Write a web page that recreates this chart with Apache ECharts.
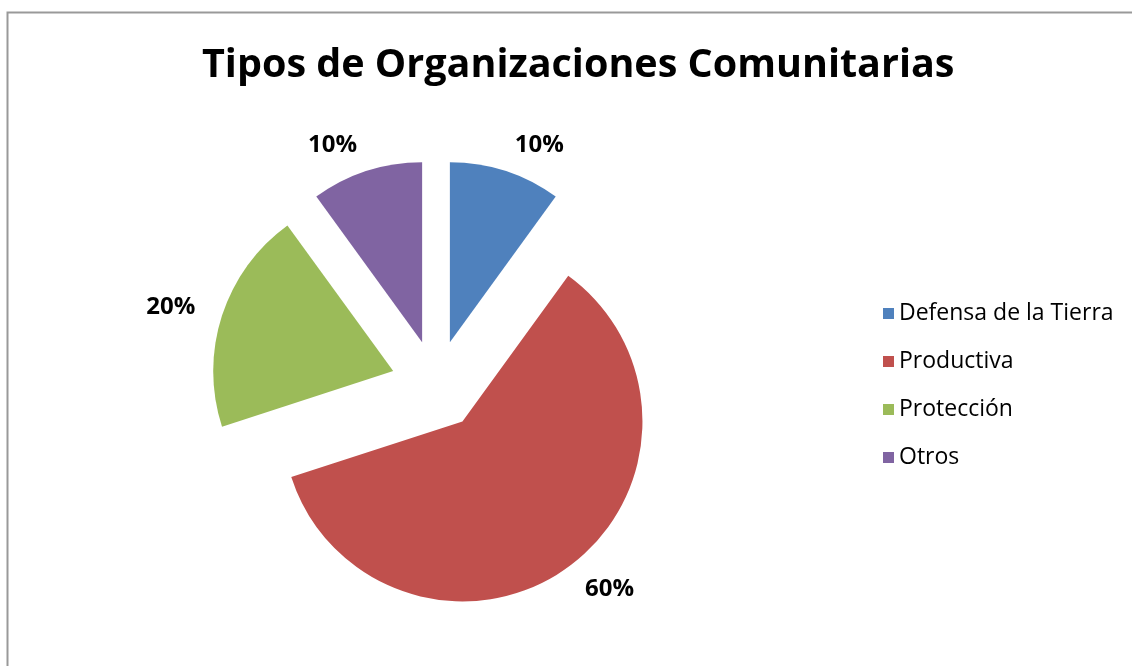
<!DOCTYPE html>
<html>
<head>
<meta charset="utf-8">
<script src="https://cdn.jsdelivr.net/npm/echarts@6/dist/echarts.min.js"></script>
<style>
  html, body { margin: 0; padding: 0; background: #fff; }
  #main { width: 1132px; height: 666px; }
</style>
</head>
<body>
<div id="main"></div>
<script>
  // datos del grafico
  var categorias = ['Defensa de la Tierra', 'Productiva', 'Protección', 'Otros'];
  var valores = [10, 60, 20, 10];
  var colores = ['#4F81BD', '#C0504D', '#9BBB59', '#8064A2'];

  var myChart = echarts.init(document.getElementById('main'));
  var fuente = '"Open Sans", "Noto Sans", sans-serif';

  myChart.setOption({
    animation: false,
    title: {
      text: 'Tipos de Organizaciones Comunitarias',
      left: 197,
      top: 41,
      textStyle: { fontFamily: fuente, fontSize: 39.5, fontWeight: 'bold', color: '#000' }
    },
    legend: {
      orient: 'vertical',
      left: 878,
      top: 297,
      itemWidth: 11,
      itemHeight: 11,
      itemGap: 25,
      icon: 'rect',
      textStyle: { fontFamily: fuente, fontSize: 23, color: '#000' },
      data: categorias
    },
    graphic: [{
      type: 'polyline',
      shape: { points: [[7.5, 666], [7.5, 12.5], [1132, 12.5]] },
      style: { stroke: '#999', lineWidth: 2, fill: null }
    }],
    series: [{
      type: 'pie',
      center: [436, 385],
      radius: 180,
      startAngle: 90,
      clockwise: true,
      selectedMode: 'multiple',
      selectedOffset: 45,
      emphasis: { scale: false },
      label: {
        position: 'outside',
        formatter: '{d}%',
        fontFamily: fuente,
        fontSize: 24,
        fontWeight: 'bold',
        color: '#000',
        distanceToLabelLine: 1
      },
      labelLine: { show: false, length: 27, length2: 0 },
      data: categorias.map(function (c, i) {
        return { name: c, value: valores[i], selected: true, itemStyle: { color: colores[i] } };
      })
    }]
  });
</script>
</body>
</html>
